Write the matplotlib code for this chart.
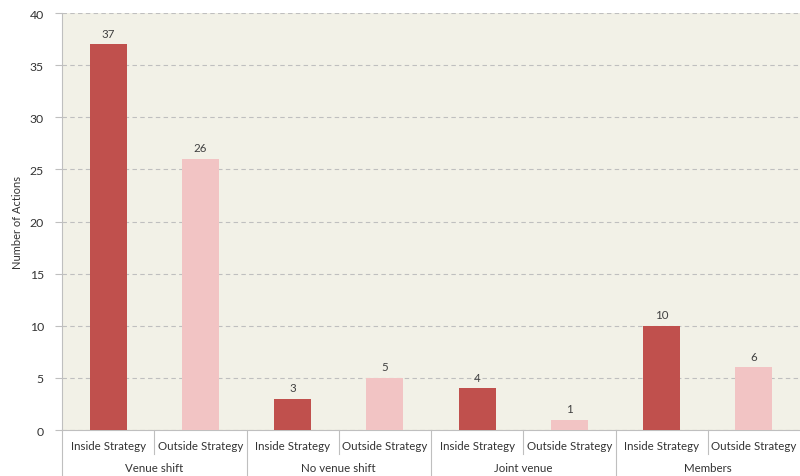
import matplotlib
matplotlib.use("Agg")
import matplotlib.pyplot as plt
import matplotlib.transforms as mtransforms

plt.rcParams['font.family'] = ['Lato', 'DejaVu Sans']

groups = ["Venue shift", "No venue shift", "Joint venue", "Members"]
strategies = ["Inside Strategy", "Outside Strategy"]
inside_vals = [37, 3, 4, 10]
outside_vals = [26, 5, 1, 6]
yticks = [0, 5, 10, 15, 20, 25, 30, 35, 40]

dark = "#C0504D"
light = "#F2C4C4"
text_col = "#404040"

fig = plt.figure(figsize=(8, 4.77), dpi=100)
ax = fig.add_axes([0.0775, 0.0964, 0.9225, 0.8742])
ax.set_facecolor("#F2F1E7")

values = []
colors = []
labels = []
for i, g in enumerate(groups):
    values += [inside_vals[i], outside_vals[i]]
    colors += [dark, light]
    labels += strategies
xs = list(range(len(values)))
bars = ax.bar(xs, values, width=0.4, color=colors, zorder=3)
for x, v in zip(xs, values):
    ax.annotate(str(v), (x, v), xytext=(0, 4), textcoords="offset points",
                ha="center", va="bottom", fontsize=8.3, color=text_col)

ax.set_xlim(-0.5, len(values) - 0.5)
ax.set_ylim(0, 40)
ax.set_yticks(yticks)
ax.set_yticklabels([str(t) for t in yticks], fontsize=8.8, color="#333333")
ax.yaxis.grid(True, linestyle=(0, (4, 3)), color="#BFBFBF", linewidth=0.8, zorder=0)
ax.tick_params(axis='y', length=5, color="#BFBFBF", pad=8)
ax.set_xticks([])
ax.set_ylabel("Number of Actions", fontsize=8, color="#333333", labelpad=5)

for s in ["top", "right"]:
    ax.spines[s].set_visible(False)
ax.spines["left"].set_color("#BFBFBF")
ax.spines["bottom"].set_color("#BFBFBF")

trans = mtransforms.blended_transform_factory(ax.transData, ax.transAxes)
for x, lab in zip(xs, labels):
    ax.text(x, -0.036, lab, transform=trans, ha="center", va="center",
            fontsize=8.3, color="#333333")
for i, g in enumerate(groups):
    ax.text(2 * i + 0.5, -0.091, g, transform=trans, ha="center", va="center",
            fontsize=8.3, color="#333333")
for b in [0.5, 2.5, 4.5, 6.5]:
    ax.plot([b, b], [0, -0.058], transform=trans, color="#BFBFBF", lw=0.8, clip_on=False)
for b in [-0.5, 1.5, 3.5, 5.5]:
    ax.plot([b, b], [0, -0.12], transform=trans, color="#BFBFBF", lw=0.8, clip_on=False)

fig.savefig("out.png", dpi=100, facecolor="white")
